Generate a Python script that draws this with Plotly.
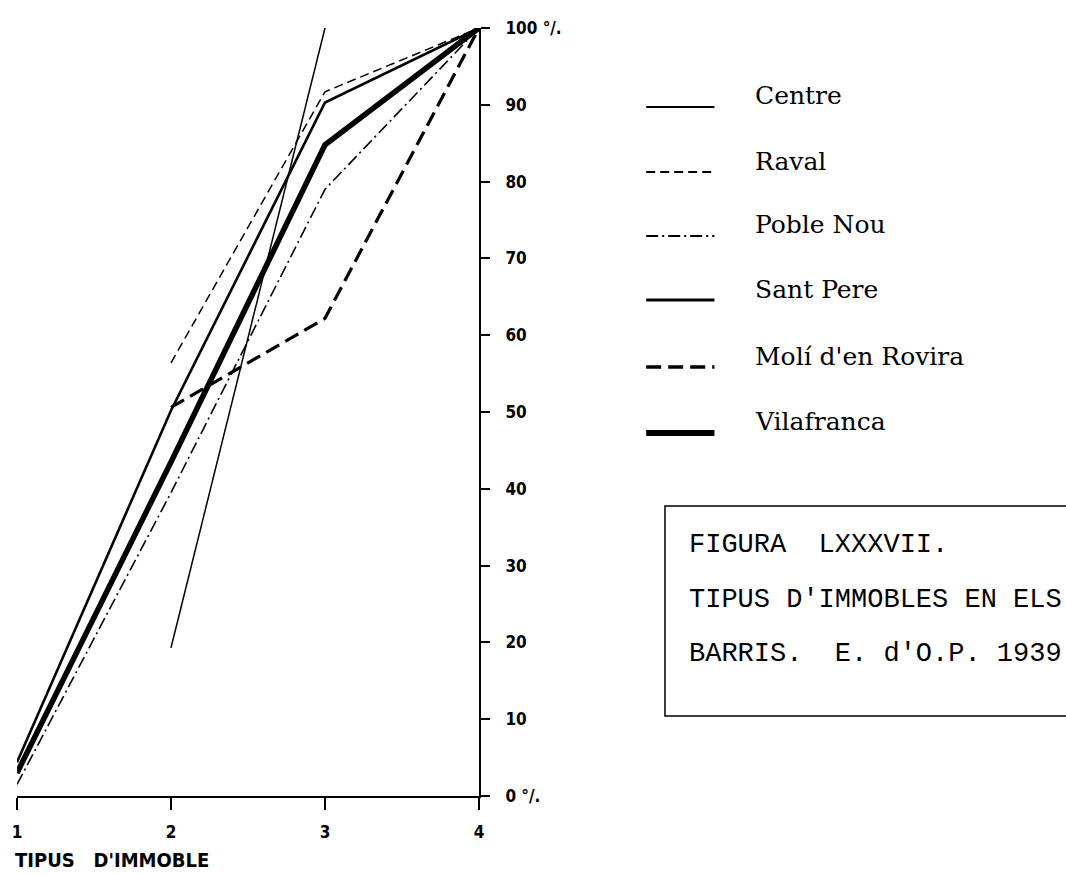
import plotly.graph_objects as go

# tipus d'immoble (x) and cumulative percentage per barri
tipus = [1, 2, 3, 4]
barris = ["Centre", "Raval", "Poble Nou", "Sant Pere", "Molí d'en Rovira", "Vilafranca"]
centre = [None, 19.3, 100, None]
raval = [None, 56.4, 91.7, 100]
poble_nou = [1.5, 39.5, 79.0, 100]
sant_pere = [4.4, 50.2, 90.3, 100]
moli = [None, 50.6, 62.2, 100]
vilafranca = [3.0, 43.5, 84.8, 100]

y_ticks = [0, 10, 20, 30, 40, 50, 60, 70, 80, 90, 100]
y_ticktext = ["0 °/."] + [str(v) for v in y_ticks[1:-1]] + ["100 °/."]
caption = ["FIGURA  LXXXVII.", "TIPUS D'IMMOBLES EN ELS", "BARRIS.  E. d'O.P. 1939"]

series = [centre, raval, poble_nou, sant_pere, moli, vilafranca]
dashes = ["solid", "9px,5px", "12px,4px,2px,4px", "solid", "15px,7px", "solid"]
widths = [1.5, 1.5, 1.6, 2.6, 3.2, 5.5]

W, H = 1066, 875
L, R, T, B = 12, 479, 28, 796


def px(x):
    return (x - L) / (R - L)


def py(y):
    return (B - y) / (B - T)


fig = go.Figure()
for name, vals, d, w in zip(barris, series, dashes, widths):
    fig.add_trace(go.Scatter(x=tipus, y=vals, name=name, mode="lines",
                             line=dict(color="black", width=w, dash=d),
                             showlegend=False))

shapes = []
annotations = []

# hand-made legend
leg_y = [107, 172, 236, 300, 367, 433]
for name, d, w, yy in zip(barris, dashes, widths, leg_y):
    shapes.append(dict(type="line", xref="paper", yref="paper",
                       x0=px(648), x1=px(717), y0=py(yy), y1=py(yy),
                       line=dict(color="black", width=min(w + 0.5, 6), dash=d)))
    annotations.append(dict(xref="paper", yref="paper", x=px(756), y=py(yy - 11),
                            text=name, showarrow=False, xanchor="left", yanchor="middle",
                            font=dict(family="DejaVu Serif", size=25, color="black")))

# caption box
shapes.append(dict(type="rect", xref="paper", yref="paper",
                   x0=px(667), x1=px(1100), y0=py(716), y1=py(506),
                   line=dict(color="black", width=1.5)))
for txt, yy in zip(caption, [545, 600, 654]):
    annotations.append(dict(xref="paper", yref="paper", x=px(689), y=py(yy),
                            text=txt, showarrow=False, xanchor="left", yanchor="middle",
                            font=dict(family="Liberation Mono", size=27, color="black")))

# x axis title
annotations.append(dict(xref="paper", yref="paper", x=0, y=py(860), xshift=-4,
                        text="TIPUS   D'IMMOBLE", showarrow=False,
                        xanchor="left", yanchor="middle",
                        font=dict(family="DejaVu Sans Condensed, DejaVu Sans", size=20,
                                  color="black", weight="bold")))

tick_font = dict(family="DejaVu Sans Condensed, DejaVu Sans", size=17, color="black", weight="bold")

fig.update_layout(
    width=W, height=H,
    margin=dict(l=L, r=W - R, t=T, b=H - B),
    paper_bgcolor="white", plot_bgcolor="white",
    shapes=shapes, annotations=annotations,
    xaxis=dict(range=[1, 4], tickvals=tipus, ticktext=[str(t) for t in tipus],
               showline=True, linecolor="black", linewidth=2,
               ticks="outside", ticklen=12, tickwidth=1.5, tickcolor="black",
               ticklabelstandoff=8, showgrid=False, zeroline=False,
               tickfont=tick_font, fixedrange=True),
    yaxis=dict(range=[0, 100], side="right", tickvals=y_ticks, ticktext=y_ticktext,
               showline=True, linecolor="black", linewidth=2,
               ticks="outside", ticklen=9, tickwidth=1.5, tickcolor="black",
               ticklabelstandoff=12, showgrid=False, zeroline=False,
               tickfont=tick_font, fixedrange=True),
)

fig.write_html("out.html", config={"displayModeBar": False},
               post_script="document.body.style.margin='0';document.body.style.overflow='hidden';")
